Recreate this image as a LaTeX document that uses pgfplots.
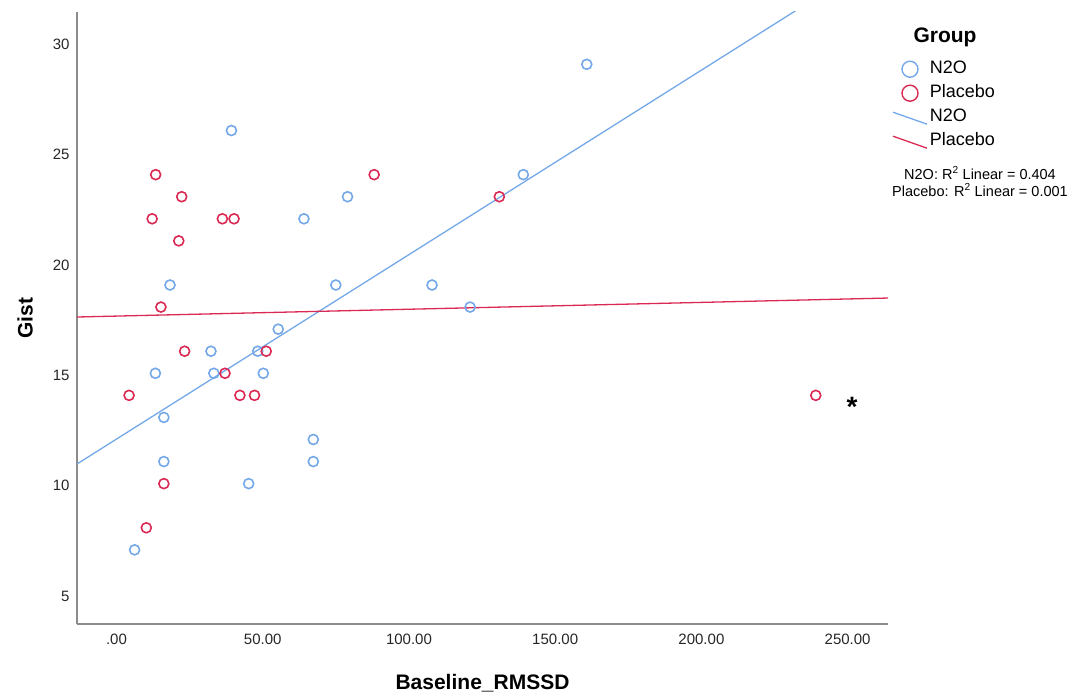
\documentclass[border=0pt]{standalone}
\usepackage{fontspec}
\setmainfont{Liberation Sans}
\usepackage{pgfplots}
\pgfplotsset{compat=1.18}
\definecolor{nblue}{RGB}{116,168,232}
\definecolor{pred}{RGB}{218,42,84}
\definecolor{axgray}{RGB}{140,140,140}
\pgfplotsset{
  circleleg/.style={legend image code/.code={\path (0pt,0pt) (34pt,0pt);
    \draw[##1, mark size=8pt, line width=1.4pt] plot coordinates {(17pt,0pt)};}},
  slantleg/.style={legend image code/.code={\draw[##1] (0pt,5pt) -- (34pt,-7pt);}},
}

\begin{document}
\begin{tikzpicture}
\begin{axis}[
  at={(0pt,0pt)}, anchor=south west,
  scale only axis, width=811pt, height=612pt,
  xmin=-13.5, xmax=263.8, ymin=3.64, ymax=31.37,
  axis x line*=bottom, axis y line*=left,
  axis line style={axgray, line width=1.2pt, -},
  xtick={0,50,...,250},
  xticklabels={.00,50.00,100.00,150.00,200.00,250.00},
  ytick={5,10,...,30},
  /pgf/number format/assume math mode=true,
  major tick length=0pt,
  tick label style={font=\fontsize{15}{18}\selectfont, text=black!85},
  xticklabel style={yshift=-6pt},
  yticklabel style={xshift=-4pt, yshift=-2pt},
  xlabel={\textbf{Baseline\_RMSSD}}, ylabel={\textbf{Gist}},
  label style={font=\fontsize{21}{25}\selectfont},
  xlabel style={at={(axis description cs:0.5,-0.0964)}, anchor=center},
  ylabel style={at={(axis description cs:-0.064,0.5)}, anchor=center},
  legend style={at={(axis description cs:1,1)}, anchor=north west,
    xshift=4pt, yshift=-48.5pt, draw=none, fill=none, inner sep=0pt,
    font=\fontsize{18}{21}\selectfont, row sep=7pt, column sep=2pt,
    nodes={inner sep=0pt, text height=13pt, text depth=4pt}},
  legend cell align=left,
]
\addplot[only marks, mark=o, nblue, mark size=5pt, line width=1.6pt, circleleg]
coordinates {
(6.2,7) (16.2,11) (16.2,13) (13.3,15) (18.3,19) (32.3,16) (33.3,15)
(39.3,26) (45.2,10) (48.3,16) (50.2,15) (55.3,17) (64.1,22) (67.3,12)
(67.3,11) (75,19) (79,23) (107.9,19) (120.9,18) (139.1,24) (160.8,29)
};
\addlegendentry{N2O}
\addplot[only marks, mark=o, pred, mark size=5pt, line width=1.6pt, circleleg]
coordinates {
(13.4,24) (22.3,23) (12.2,22) (36.2,22) (40.2,22) (21.3,21) (88.1,24)
(15.2,18) (23.3,16) (51.2,16) (37.1,15) (4.3,14) (42.2,14) (47.2,14)
(16.2,10) (10.2,8) (130.9,23) (239.1,14)
};
\addlegendentry{Placebo}
\addplot[nblue, line width=1.3pt, no marks, slantleg]
coordinates {(-13.5,10.89) (232.6,31.46)};
\addlegendentry{N2O}
\addplot[pred, line width=1.3pt, no marks, slantleg]
coordinates {(-13.5,17.55) (263.8,18.41)};
\addlegendentry{Placebo}
\node[font=\fontsize{28}{28}\selectfont\bfseries, anchor=center] at (axis cs:251.5,13.48) {*};
\end{axis}
\node[font=\fontsize{21}{25}\selectfont\bfseries] at (868pt,587pt) {Group};
\node[font=\fontsize{14.5}{17}\selectfont, align=center] at (903pt,442.5pt)
  {N2O: R\textsuperscript{2} Linear = 0.404\\Placebo: R\textsuperscript{2} Linear = 0.001};
\pgfresetboundingbox
\path (-77pt,-73pt) rectangle (1001pt,624pt);
\end{tikzpicture}
\end{document}
